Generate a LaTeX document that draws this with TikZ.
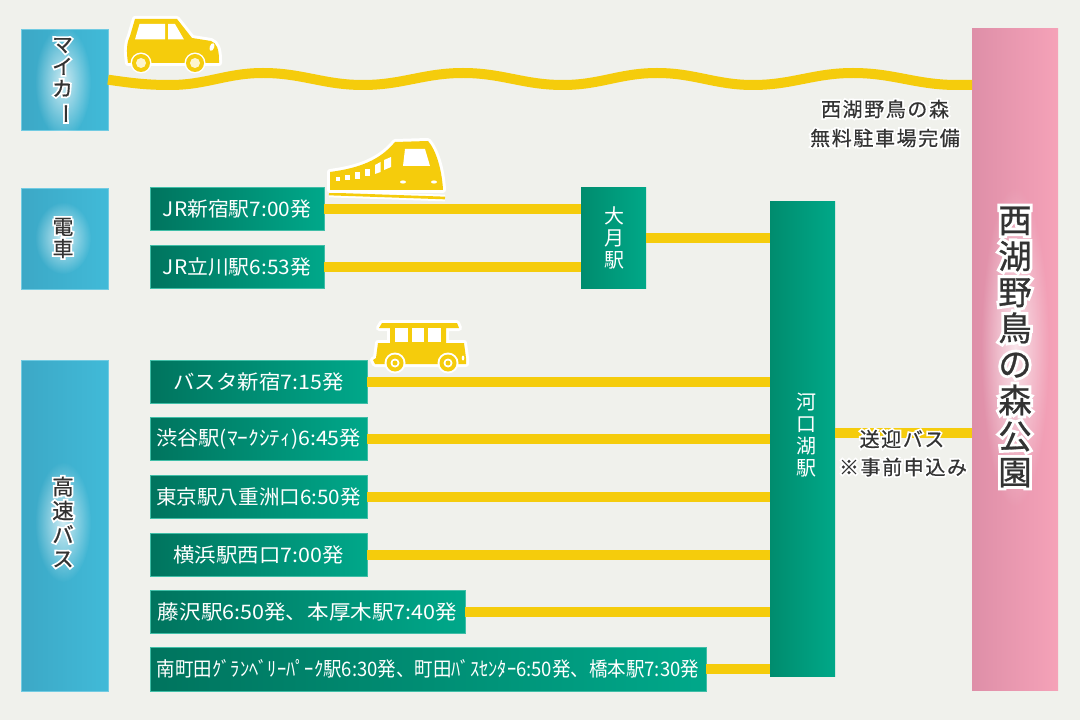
\documentclass[tikz,border=0pt]{standalone}
\usepackage{fontspec}
\usepackage{graphicx}
\usepackage{xcolor}
\usepackage{tikz}
\usetikzlibrary{fadings}

\setmainfont{Noto Sans CJK JP}
\newfontfamily\jpdark[FakeBold=.8]{Noto Sans CJK JP}
\newfontfamily\jphalo[FakeBold=18]{Noto Sans CJK JP}
\newfontfamily\jpwide[LetterSpace=8, FakeBold=.5]{Noto Sans CJK JP}
\newfontfamily\jpwidehalo[LetterSpace=8, FakeBold=18]{Noto Sans CJK JP}

\definecolor{paper}{HTML}{F0F1EC}
\definecolor{rail}{HTML}{F5CC0C}
\definecolor{inkgrey}{HTML}{333333}
\definecolor{sideleft}{HTML}{3CA8C6}
\definecolor{sideright}{HTML}{41BAD8}
\definecolor{depleft}{HTML}{00745E}
\definecolor{depright}{HTML}{00A88A}
\definecolor{hubleft}{HTML}{008C6E}
\definecolor{hubright}{HTML}{00A888}
\definecolor{parkleft}{HTML}{DE8FA8}
\definecolor{parkright}{HTML}{F5A2B8}

\tikzfading[name=glowfade, inner color=transparent!25, outer color=transparent!100]

\newcommand{\halo}[1]{\leavevmode\rlap{\jphalo\color{white}#1}{\jpdark #1}}
\newcommand{\halowide}[1]{\leavevmode\rlap{\jpwidehalo\color{white}#1}{\jpwide #1}}
\newcommand{\fitwd}[2]{\resizebox{\dimexpr#1pt*3/4\relax}{\height}{#2}}
\newcommand{\tate}{\rotatebox[origin=c]{-90}{ー}}

\tikzset{
    size/.style 2 args={minimum width=#1*.75pt, minimum height=(#2-.8)*.75pt, inner sep=0pt, outer sep=0pt},
    sidebox/.style={left color=sideleft, right color=sideright, draw=sideright!75!white, line width=.4pt},
    sidetext/.style={text=inkgrey, align=center, inner sep=0pt, font=\fontsize{15.5}{16.5}\selectfont},
    depbox/.style={left color=depleft, right color=depright, draw=depright!75!white, line width=.4pt, text=white, font=\fontsize{15}{18}\selectfont},
    hubbox/.style={left color=hubleft, middle color=hubright, right color=hubright},
    hubtext/.style={text=white, align=center, inner sep=0pt, font=\fontsize{15}{16.5}\selectfont},
    yline/.style={draw=rail, line width=7.5pt},
    noteline/.style={text=inkgrey, inner sep=0pt, font=\fontsize{15}{18}\selectfont},
    icon/.style={fill=rail, preaction={draw=white, line width=4.5pt, line join=round}},
    glow/.style={white, path fading=glowfade, fit fading=true}
}

\begin{document}
\begin{tikzpicture}[x=.75pt, y=-.75pt]

    \useasboundingbox (0, 0) rectangle (1080, 720);
    \fill[paper] (0, 0) rectangle (1080, 720);

    % side boxes
    \node[sidebox, size={87}{101}] (mycar) at (64.5, 79.7) {};
    \node[sidebox, size={87}{101}] (train) at (64.5, 238.7) {};
    \node[sidebox, size={87}{331}] (hwbus) at (64.5, 525.7) {};
    \node[left color=parkleft, right color=parkright, size={86}{663}] (park) at (1015, 359.7) {};

    % departures
    \node[depbox, size={174}{44}] (jrshinjuku) at (237, 208.7) {\fitwd{148}{JR新宿駅7:00発}};
    \node[depbox, size={174}{44}] (jrtachikawa) at (237, 267) {\fitwd{148}{JR立川駅6:53発}};
    \node[depbox, size={217}{44}] (busta) at (258.5, 382) {\fitwd{170}{バスタ新宿7:15発}};
    \node[depbox, size={217}{44}] (shibuya) at (258.5, 439) {\fitwd{205}{渋谷駅(ﾏｰｸｼﾃｨ)6:45発}};
    \node[depbox, size={217}{44}] (tokyo) at (258.5, 497) {\fitwd{205}{東京駅八重洲口6:50発}};
    \node[depbox, size={217}{44}] (yokohama) at (258.5, 555) {\fitwd{170}{横浜駅西口7:00発}};
    \node[depbox, size={315}{44}] (fujisawa) at (307.5, 612) {\fitwd{299}{藤沢駅6:50発、本厚木駅7:40発}};
    \node[depbox, size={556}{44}] (minami) at (428, 669.3) {\fitwd{542}{南町田ｸﾞﾗﾝﾍﾞﾘｰﾊﾟｰｸ駅6:30発、町田ﾊﾞｽｾﾝﾀｰ6:50発、橋本駅7:30発}};

    % change stations
    \node[hubbox, size={65}{102}] (otsuki) at (613.5, 238.3) {};
    \node[hubbox, size={65}{476}] (kawaguchiko) at (802.5, 439.3) {};
    \node[hubtext] (otsukiname) at (614, 238) {大\\月\\駅};
    \node[hubtext] (kawaguchikoname) at (806, 435.5) {河\\口\\湖\\駅};

    \coordinate (pickup) at (835, 433);
    \coordinate (wave1) at (170, 85);
    \coordinate (wave2) at (263, 73);
    \coordinate (wave3) at (363, 85);
    \coordinate (wave4) at (463, 73);
    \coordinate (wave5) at (563, 85);
    \coordinate (wave6) at (657, 73);
    \coordinate (wave7) at (753, 85);
    \coordinate (wave8) at (853, 73);
    \coordinate (wave9) at (957, 85);

    % lines
    \draw[yline] (jrshinjuku.east) -- (jrshinjuku.east -| otsuki.west);
    \draw[yline] (jrtachikawa.east) -- (jrtachikawa.east -| otsuki.west);
    \draw[yline] (otsuki.east) -- (otsuki.east -| kawaguchiko.west);
    \draw[yline] (busta.east) -- (busta.east -| kawaguchiko.west);
    \draw[yline] (shibuya.east) -- (shibuya.east -| kawaguchiko.west);
    \draw[yline] (tokyo.east) -- (tokyo.east -| kawaguchiko.west);
    \draw[yline] (yokohama.east) -- (yokohama.east -| kawaguchiko.west);
    \draw[yline] (fujisawa.east) -- (fujisawa.east -| kawaguchiko.west);
    \draw[yline] (minami.east) -- (minami.east -| kawaguchiko.west);
    \draw[yline] (pickup) -- (pickup -| park.west);
    \draw[yline] (mycar.east) to[out=-8, in=180] (wave1) to[out=0, in=180] (wave2)
        to[out=0, in=180] (wave3) to[out=0, in=180] (wave4) to[out=0, in=180] (wave5)
        to[out=0, in=180] (wave6) to[out=0, in=180] (wave7) to[out=0, in=180] (wave8)
        to[out=0, in=180] (wave9) to[out=0, in=180] (wave9 -| park.west);

    % glow behind side texts
    \fill[glow] (63, 82) ellipse (28 and 56);
    \fill[glow] (63, 238) ellipse (28 and 36);
    \fill[glow] (63, 522) ellipse (28 and 60);
    \fill[glow] (1015, 347) ellipse (34 and 160);

    % side texts
    \node[sidetext] (mycarname) at (62.5, 81) {\halo{マ}\\\halo{イ}\\\halo{カ}\\\halo{\tate}};
    \node[sidetext] (trainname) at (63, 238) {\halo{電}\\\halo{車}};
    \node[sidetext, font=\fontsize{16}{18}\selectfont] (hwbusname) at (63, 522) {\halo{高}\\\halo{速}\\\halo{バ}\\\halo{ス}};
    \node[sidetext, font=\fontsize{25}{27}\selectfont] (parkname) at (1015, 347) {\halo{西}\\\halo{湖}\\\halo{野}\\\halo{鳥}\\\halo{の}\\\halo{森}\\\halo{公}\\\halo{園}};

    % notes
    \node[noteline] (note1) at (885, 109) {\halowide{西湖野鳥の森}};
    \node[noteline] (note2) at (885, 138) {\halowide{無料駐車場完備}};
    \node[noteline] (pickup1) at (902, 439) {\halowide{送迎バス}};
    \node[noteline] (pickup2) at (903, 467) {\halowide{※事前申込み}};

    % car
    \fill[icon] (135, 19) -- (177, 19) -- (192, 38) -- (211, 41) .. controls (217, 43) and (219, 50) .. (219, 60) -- (219, 63) -- (128, 63) .. controls (126, 50) and (127, 42) .. (130, 36) -- cycle;
    \fill[white] (135, 39.5) -- (139.5, 24) -- (165, 24) -- (165, 39.5) -- cycle;
    \fill[white] (168, 24) -- (175, 24) -- (184, 39.5) -- (168, 39.5) -- cycle;
    \fill[white, rotate around={-20:(212, 47)}] (212, 47) ellipse (2.2 and 4);
    \foreach \wx in {141, 195} {
        \fill[white] (\wx, 63) circle (10.5);
        \fill[rail] (\wx, 63) circle (9);
        \fill[white!80!rail] (\wx, 63) circle (5);
    }

    % train
    \draw[draw=rail, line width=2pt, preaction={draw=white, line width=5pt}] (329, 194) -- (445, 198);
    \fill[icon] (330, 172) .. controls (360, 168) and (380, 160) .. (395, 142) -- (428, 141) .. controls (436, 150) and (442, 170) .. (443, 190) -- (330, 190) -- cycle;
    \fill[white] (405, 149) -- (425, 149) -- (430, 166) -- (403, 166) -- cycle;
    \fill[white] (336, 177) rectangle (339.5, 181);
    \fill[white] (345, 175) rectangle (349.5, 180);
    \fill[white] (355, 172.5) rectangle (360, 179);
    \fill[white] (365, 169) rectangle (370, 176);
    \fill[white] (375, 165) -- (380.5, 162) -- (380.5, 172) -- (375, 174) -- cycle;
    \fill[white] (384, 160) -- (391, 157) -- (391, 167) -- (384, 170) -- cycle;
    \fill[white] (403, 182) ellipse (3 and 1.6);
    \fill[white] (434, 182) ellipse (3 and 1.6);

    % bus
    \fill[icon] (382, 323) -- (457, 323) -- (459, 328) -- (446, 328) -- (446, 343) -- (464, 343) -- (466, 358) -- (466, 364) -- (375, 364) -- (373, 360) -- (376, 358) -- (378, 343) -- (390, 343) -- (390, 328) -- (379, 328) -- cycle;
    \fill[rail] (390, 328) rectangle (446, 344);
    \fill[white] (395, 328) rectangle (408, 342);
    \fill[white] (412, 328) rectangle (424, 342);
    \fill[white] (428, 328) rectangle (441, 342);
    \fill[white] (463, 358) ellipse (1.3 and 2.5);
    \foreach \wx in {395, 448} {
        \fill[white] (\wx, 363) circle (10.5);
        \fill[rail] (\wx, 363) circle (8.5);
        \fill[white] (\wx, 363) circle (4.5);
        \fill[rail] (\wx, 363) circle (2.5);
    }

\end{tikzpicture}
\end{document}
